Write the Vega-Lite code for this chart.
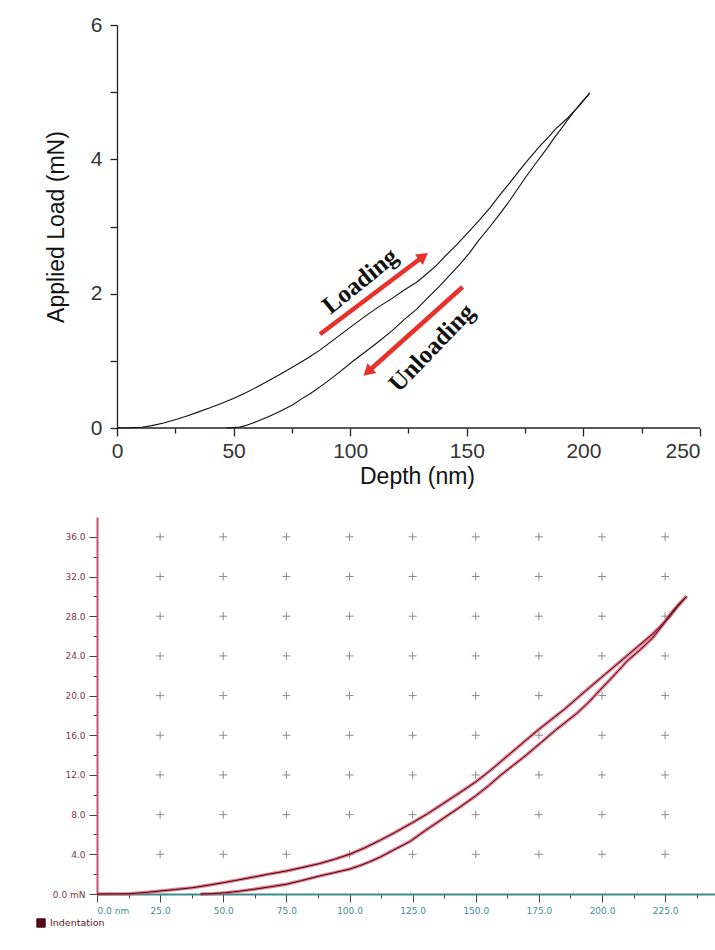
{
  "$schema": "https://vega.github.io/schema/vega-lite/v6.json",
  "background": "white",
  "padding": {"left": 36, "top": 14, "right": 0, "bottom": 0},
  "bounds": "flush",
  "spacing": 89,
  "config": {"view": {"stroke": null}},
  "datasets": {
    "top": [
      {"branch": "load", "h": 0, "P": 0}, {"branch": "load", "h": 5, "P": 0.003}, {"branch": "load", "h": 10.6, "P": 0.012},
      {"branch": "load", "h": 15, "P": 0.035}, {"branch": "load", "h": 20, "P": 0.075}, {"branch": "load", "h": 25.6, "P": 0.13},
      {"branch": "load", "h": 30, "P": 0.18}, {"branch": "load", "h": 35, "P": 0.24}, {"branch": "load", "h": 39.9, "P": 0.3},
      {"branch": "load", "h": 45, "P": 0.37}, {"branch": "load", "h": 49.9, "P": 0.44}, {"branch": "load", "h": 55, "P": 0.52},
      {"branch": "load", "h": 60, "P": 0.61}, {"branch": "load", "h": 64.2, "P": 0.69}, {"branch": "load", "h": 70, "P": 0.8},
      {"branch": "load", "h": 75, "P": 0.9}, {"branch": "load", "h": 81.3, "P": 1.03}, {"branch": "load", "h": 87, "P": 1.16},
      {"branch": "load", "h": 92, "P": 1.29}, {"branch": "load", "h": 97, "P": 1.42}, {"branch": "load", "h": 102, "P": 1.55},
      {"branch": "load", "h": 107.1, "P": 1.68}, {"branch": "load", "h": 112, "P": 1.8}, {"branch": "load", "h": 118, "P": 1.93},
      {"branch": "load", "h": 123, "P": 2.05}, {"branch": "load", "h": 128.5, "P": 2.17}, {"branch": "load", "h": 133, "P": 2.3},
      {"branch": "load", "h": 137, "P": 2.42}, {"branch": "load", "h": 141, "P": 2.57}, {"branch": "load", "h": 145.7, "P": 2.73},
      {"branch": "load", "h": 150, "P": 2.89}, {"branch": "load", "h": 155, "P": 3.08}, {"branch": "load", "h": 160, "P": 3.28},
      {"branch": "load", "h": 164.2, "P": 3.47}, {"branch": "load", "h": 168, "P": 3.63}, {"branch": "load", "h": 172, "P": 3.81},
      {"branch": "load", "h": 176, "P": 3.98}, {"branch": "load", "h": 181.4, "P": 4.2}, {"branch": "load", "h": 185, "P": 4.33},
      {"branch": "load", "h": 188, "P": 4.45}, {"branch": "load", "h": 192.8, "P": 4.6}, {"branch": "load", "h": 195, "P": 4.68},
      {"branch": "load", "h": 198, "P": 4.79}, {"branch": "load", "h": 200, "P": 4.87}, {"branch": "load", "h": 202.8, "P": 4.99},
      {"branch": "unload", "h": 202.8, "P": 4.99}, {"branch": "unload", "h": 201, "P": 4.92}, {"branch": "unload", "h": 199, "P": 4.84},
      {"branch": "unload", "h": 197.1, "P": 4.76}, {"branch": "unload", "h": 194, "P": 4.62}, {"branch": "unload", "h": 191, "P": 4.48},
      {"branch": "unload", "h": 187.5, "P": 4.32}, {"branch": "unload", "h": 184.3, "P": 4.16}, {"branch": "unload", "h": 180, "P": 3.96},
      {"branch": "unload", "h": 176, "P": 3.77}, {"branch": "unload", "h": 172, "P": 3.57}, {"branch": "unload", "h": 168.5, "P": 3.39},
      {"branch": "unload", "h": 164, "P": 3.18}, {"branch": "unload", "h": 160, "P": 3.0}, {"branch": "unload", "h": 155, "P": 2.79},
      {"branch": "unload", "h": 151, "P": 2.6}, {"branch": "unload", "h": 147.1, "P": 2.44}, {"branch": "unload", "h": 142, "P": 2.25},
      {"branch": "unload", "h": 138, "P": 2.1}, {"branch": "unload", "h": 133, "P": 1.93}, {"branch": "unload", "h": 128.5, "P": 1.77},
      {"branch": "unload", "h": 123, "P": 1.61}, {"branch": "unload", "h": 118, "P": 1.45}, {"branch": "unload", "h": 112, "P": 1.28},
      {"branch": "unload", "h": 107.1, "P": 1.15}, {"branch": "unload", "h": 101, "P": 0.99}, {"branch": "unload", "h": 95, "P": 0.82},
      {"branch": "unload", "h": 89, "P": 0.66}, {"branch": "unload", "h": 82.8, "P": 0.51}, {"branch": "unload", "h": 79, "P": 0.43},
      {"branch": "unload", "h": 75.6, "P": 0.35}, {"branch": "unload", "h": 70, "P": 0.25}, {"branch": "unload", "h": 65.6, "P": 0.18},
      {"branch": "unload", "h": 61, "P": 0.11}, {"branch": "unload", "h": 58, "P": 0.07}, {"branch": "unload", "h": 55, "P": 0.035},
      {"branch": "unload", "h": 52.7, "P": 0.015}, {"branch": "unload", "h": 50, "P": 0.005}, {"branch": "unload", "h": 47, "P": 0}
    ],
    "arrows": [
      {"dir": "load", "h": 87.05, "P": 1.395, "h2": 131.4, "P2": 2.556},
      {"dir": "unload", "h": 148.2, "P": 2.1, "h2": 107.5, "P2": 0.834}
    ],
    "heads": [
      {"dir": "load", "h": 131.4, "P": 2.556},
      {"dir": "unload", "h": 107.5, "P": 0.834}
    ],
    "labels": [
      {"dir": "load", "h": 104.2, "P": 2.19, "text": "Loading"},
      {"dir": "unload", "h": 134.9, "P": 1.195, "text": "Unloading"}
    ],
    "baseline": [{"h": 0, "h2": 250, "P": 0}],
    "bot": [
      {"branch": "load", "h": 0, "P": 0}, {"branch": "load", "h": 6, "P": 0.01}, {"branch": "load", "h": 13, "P": 0.03},
      {"branch": "load", "h": 19, "P": 0.15}, {"branch": "load", "h": 25, "P": 0.3}, {"branch": "load", "h": 31, "P": 0.45},
      {"branch": "load", "h": 38, "P": 0.64}, {"branch": "load", "h": 44, "P": 0.88}, {"branch": "load", "h": 50, "P": 1.14},
      {"branch": "load", "h": 56, "P": 1.42}, {"branch": "load", "h": 62, "P": 1.71}, {"branch": "load", "h": 68, "P": 2.0},
      {"branch": "load", "h": 75, "P": 2.32}, {"branch": "load", "h": 81, "P": 2.65}, {"branch": "load", "h": 88, "P": 3.06},
      {"branch": "load", "h": 94, "P": 3.5}, {"branch": "load", "h": 100, "P": 4.0}, {"branch": "load", "h": 106, "P": 4.65},
      {"branch": "load", "h": 112, "P": 5.4}, {"branch": "load", "h": 118, "P": 6.2}, {"branch": "load", "h": 125, "P": 7.2},
      {"branch": "load", "h": 131, "P": 8.1}, {"branch": "load", "h": 137, "P": 9.1}, {"branch": "load", "h": 143, "P": 10.1},
      {"branch": "load", "h": 150, "P": 11.3}, {"branch": "load", "h": 156, "P": 12.5}, {"branch": "load", "h": 162, "P": 13.8},
      {"branch": "load", "h": 168, "P": 15.1}, {"branch": "load", "h": 175, "P": 16.6}, {"branch": "load", "h": 180, "P": 17.6},
      {"branch": "load", "h": 185, "P": 18.6}, {"branch": "load", "h": 190, "P": 19.7}, {"branch": "load", "h": 195, "P": 20.8},
      {"branch": "load", "h": 201, "P": 22.1}, {"branch": "load", "h": 208, "P": 23.6}, {"branch": "load", "h": 214, "P": 24.9},
      {"branch": "load", "h": 220, "P": 26.2}, {"branch": "load", "h": 224, "P": 27.2}, {"branch": "load", "h": 227, "P": 28.0},
      {"branch": "load", "h": 230, "P": 29.0}, {"branch": "load", "h": 233.5, "P": 30.0},
      {"branch": "unload", "h": 233.5, "P": 30.0}, {"branch": "unload", "h": 230, "P": 29.1}, {"branch": "unload", "h": 227, "P": 28.2},
      {"branch": "unload", "h": 224, "P": 27.1}, {"branch": "unload", "h": 220, "P": 25.8}, {"branch": "unload", "h": 215, "P": 24.6},
      {"branch": "unload", "h": 210, "P": 23.5}, {"branch": "unload", "h": 205, "P": 22.1}, {"branch": "unload", "h": 199, "P": 20.5},
      {"branch": "unload", "h": 195, "P": 19.4}, {"branch": "unload", "h": 190, "P": 18.2}, {"branch": "unload", "h": 186, "P": 17.4},
      {"branch": "unload", "h": 182, "P": 16.6}, {"branch": "unload", "h": 176, "P": 15.3}, {"branch": "unload", "h": 170, "P": 14.0},
      {"branch": "unload", "h": 165, "P": 13.0}, {"branch": "unload", "h": 160, "P": 12.0}, {"branch": "unload", "h": 155, "P": 10.9},
      {"branch": "unload", "h": 150, "P": 9.9}, {"branch": "unload", "h": 144, "P": 8.8}, {"branch": "unload", "h": 137, "P": 7.6},
      {"branch": "unload", "h": 130, "P": 6.4}, {"branch": "unload", "h": 124, "P": 5.3}, {"branch": "unload", "h": 118, "P": 4.5},
      {"branch": "unload", "h": 112, "P": 3.7}, {"branch": "unload", "h": 108, "P": 3.25}, {"branch": "unload", "h": 104, "P": 2.85},
      {"branch": "unload", "h": 100, "P": 2.5}, {"branch": "unload", "h": 94, "P": 2.15}, {"branch": "unload", "h": 88, "P": 1.81},
      {"branch": "unload", "h": 81, "P": 1.35}, {"branch": "unload", "h": 75, "P": 0.98}, {"branch": "unload", "h": 68, "P": 0.7},
      {"branch": "unload", "h": 62, "P": 0.47}, {"branch": "unload", "h": 56, "P": 0.27}, {"branch": "unload", "h": 51, "P": 0.13},
      {"branch": "unload", "h": 46, "P": 0.04}, {"branch": "unload", "h": 41, "P": 0}
    ],
    "grid": [
      {"P": 4, "h": [25, 50, 75, 100, 125, 150, 175, 200, 225]},
      {"P": 8, "h": [25, 50, 75, 100, 125, 150, 175, 200, 225]},
      {"P": 12, "h": [25, 50, 75, 100, 125, 150, 175, 200, 225]},
      {"P": 16, "h": [25, 50, 75, 100, 125, 150, 175, 200, 225]},
      {"P": 20, "h": [25, 50, 75, 100, 125, 150, 175, 200, 225]},
      {"P": 24, "h": [25, 50, 75, 100, 125, 150, 175, 200, 225]},
      {"P": 28, "h": [25, 50, 75, 100, 125, 150, 175, 200, 225]},
      {"P": 32, "h": [25, 50, 75, 100, 125, 150, 175, 200, 225]},
      {"P": 36, "h": [25, 50, 75, 100, 125, 150, 175, 200, 225]}
    ]
  },
  "vconcat": [
    {
      "width": 603,
      "height": 403,
      "encoding": {
        "x": {
          "field": "h", "type": "quantitative",
          "scale": {"domain": [-8.576, 250], "nice": false, "zero": false},
          "axis": {
            "values": [0, 25, 50, 75, 100, 125, 150, 175, 200, 225, 250],
            "labelExpr": "datum.value % 50 == 0 ? datum.label : ''",
            "domain": false, "grid": false,
            "tickColor": "#222", "tickWidth": 1.3,
            "tickSize": {"condition": {"test": "datum.value % 50 == 0", "value": 8}, "value": 5},
            "labelFont": "Liberation Sans", "labelFontSize": 21, "labelColor": "#333", "labelPadding": 4,
            "title": "Depth (nm)", "titleFont": "Liberation Sans", "titleFontSize": 23, "titleFontWeight": "normal",
            "titleColor": "#111", "titlePadding": 4, "titleX": 320, "titleAlign": "center"
          }
        },
        "y": {
          "field": "P", "type": "quantitative",
          "scale": {"domain": [0, 6], "nice": false},
          "axis": {
            "values": [0, 1, 2, 3, 4, 5, 6],
            "labelExpr": "datum.value % 2 == 0 ? datum.label : ''",
            "offset": -20, "grid": false,
            "domainColor": "#222", "domainWidth": 1.3, "tickColor": "#222", "tickWidth": 1.3, "tickSize": 7,
            "labelFont": "Liberation Sans", "labelFontSize": 21, "labelColor": "#333", "labelPadding": 8,
            "title": "Applied Load (mN)", "titleFont": "Liberation Sans", "titleFontSize": 23, "titleFontWeight": "normal",
            "titleColor": "#111", "titlePadding": 22
          }
        }
      },
      "layer": [
        {
          "data": {"name": "baseline"},
          "mark": {"type": "rule", "color": "#222", "strokeWidth": 1.3},
          "encoding": {"x2": {"field": "h2"}}
        },
        {
          "data": {"name": "top"},
          "mark": {"type": "line", "color": "#111", "strokeWidth": 1.1},
          "encoding": {"detail": {"field": "branch"}}
        },
        {
          "data": {"name": "arrows"},
          "mark": {"type": "rule", "color": "#e8302c", "strokeWidth": 4.5},
          "encoding": {"x2": {"field": "h2"}, "y2": {"field": "P2"}}
        },
        {
          "data": {"name": "heads"},
          "transform": [{"filter": "datum.dir == 'load'"}],
          "mark": {"type": "point", "shape": "triangle-up", "filled": true, "color": "#e8302c", "opacity": 1, "size": 170, "angle": 53},
          "encoding": {}
        },
        {
          "data": {"name": "heads"},
          "transform": [{"filter": "datum.dir == 'unload'"}],
          "mark": {"type": "point", "shape": "triangle-up", "filled": true, "color": "#e8302c", "opacity": 1, "size": 170, "angle": 228},
          "encoding": {}
        },
        {
          "data": {"name": "labels"},
          "transform": [{"filter": "datum.dir == 'load'"}],
          "mark": {"type": "text", "font": "Liberation Serif", "fontWeight": "bold", "fontSize": 25, "color": "#111", "angle": 321, "align": "center", "baseline": "middle"},
          "encoding": {"text": {"field": "text"}}
        },
        {
          "data": {"name": "labels"},
          "transform": [{"filter": "datum.dir == 'unload'"}],
          "mark": {"type": "text", "font": "Liberation Serif", "fontWeight": "bold", "fontSize": 25, "color": "#111", "angle": 314, "align": "center", "baseline": "middle"},
          "encoding": {"text": {"field": "text"}}
        }
      ]
    },
    {
      "width": 618,
      "height": 377,
      "encoding": {
        "x": {
          "field": "h", "type": "quantitative",
          "scale": {"domain": [0, 244.75], "nice": false, "zero": false},
          "axis": {
            "values": [0, 12.5, 25, 37.5, 50, 62.5, 75, 87.5, 100, 112.5, 125, 137.5, 150, 162.5, 175, 187.5, 200, 212.5, 225, 237.5],
            "labelExpr": "datum.value == 0 ? '0.0 nm' : (datum.value % 25 == 0 ? format(datum.value, '.1f') : '')",
            "grid": false,
            "domainColor": "#3a8c8c", "domainWidth": 2,
            "tickColor": "#444", "tickWidth": 1,
            "tickSize": {"condition": {"test": "datum.value % 25 == 0", "value": 8}, "value": 4},
            "labelFont": "DejaVu Sans", "labelFontSize": 9, "labelColor": "#3f8f8f", "labelPadding": 4,
            "title": null
          }
        },
        "y": {
          "field": "P", "type": "quantitative",
          "scale": {"domain": [0, 38], "nice": false},
          "axis": {
            "values": [0, 2, 4, 6, 8, 10, 12, 14, 16, 18, 20, 22, 24, 26, 28, 30, 32, 34, 36],
            "labelExpr": "datum.value == 0 ? '0.0 mN' : (datum.value % 4 == 0 ? format(datum.value, '.1f') : '')",
            "grid": false,
            "domainColor": "#c8506a", "domainWidth": 2,
            "tickColor": "#444", "tickWidth": 1,
            "tickSize": {"condition": {"test": "datum.value % 4 == 0", "value": 8}, "value": 4},
            "labelFont": "DejaVu Sans", "labelFontSize": 9, "labelColor": "#7a3a4c", "labelPadding": 4,
            "title": null
          }
        }
      },
      "layer": [
        {
          "data": {"name": "grid"},
          "transform": [{"flatten": ["h"]}],
          "mark": {"type": "point", "shape": "M-1,0H1M0,-1V1", "size": 64, "filled": false, "stroke": "#8c8c8c", "strokeWidth": 1, "opacity": 1},
          "encoding": {}
        },
        {
          "data": {"name": "bot"},
          "mark": {"type": "line", "color": "#e0506a", "strokeWidth": 3.4, "opacity": 0.75},
          "encoding": {"detail": {"field": "branch"}}
        },
        {
          "data": {"name": "bot"},
          "mark": {"type": "line", "strokeWidth": 1},
          "encoding": {
            "detail": {"field": "branch"},
            "color": {
              "datum": "Indentation", "type": "nominal",
              "scale": {"range": ["#3a0a0e"]},
              "legend": {
                "orient": "none", "legendX": -61, "legendY": 893, "title": null,
                "symbolType": "square", "symbolSize": 70,
                "labelFont": "DejaVu Sans", "labelFontSize": 9.5, "labelColor": "#5a1a2a", "labelOffset": 4,
                "encode": {"symbols": {"update": {"fill": {"value": "#5a0a14"}, "stroke": {"value": "#3a0008"}, "strokeWidth": {"value": 1}}}}
              }
            }
          }
        }
      ]
    }
  ]
}
